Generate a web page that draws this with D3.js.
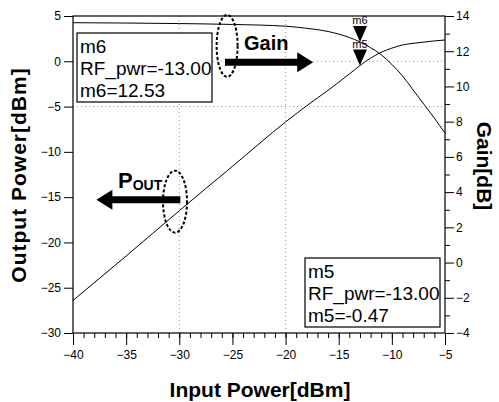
<!DOCTYPE html>
<html>
<head>
<meta charset="utf-8">
<script src="https://cdn.jsdelivr.net/npm/d3@7"></script>
<style>
  body { margin: 0; background: #fff; }
  svg { display: block; font-family: "Liberation Sans", Arial, sans-serif; }
  .tick text { font-size: 12px; }
</style>
</head>
<body>
<div id="chart"></div>
<script>
// input power sweep [dBm]
const inputPower = [-40, -35, -30, -25, -20, -18, -16, -14, -13, -12, -11, -10, -9, -8, -7, -6, -5];
// output power [dBm] (left axis)
const outputPower = [-26.4, -21.5, -16.5, -11.6, -6.7, -4.9, -3.2, -1.4, -0.47, 0.35, 1.0, 1.45, 1.8, 1.98, 2.12, 2.25, 2.35];
// gain [dB] (right axis)
const gain = [13.62, 13.6, 13.57, 13.52, 13.42, 13.3, 13.12, 12.78, 12.53, 12.2, 11.8, 11.25, 10.6, 9.8, 9.0, 8.2, 7.35];

const xTicks = [-40, -35, -30, -25, -20, -15, -10, -5];
const leftTicks = [-30, -25, -20, -15, -10, -5, 0, 5];
const rightTicks = [-4, -2, 0, 2, 4, 6, 8, 10, 12, 14];

const markerX = -13;
const m5 = -0.47, m6 = 12.53;

const width = 499, height = 402;
const pLeft = 73, pRight = 445, pTop = 16, pBottom = 333;

const svg = d3.select("#chart").append("svg")
  .attr("width", width)
  .attr("height", height);

svg.append("rect").attr("width", width).attr("height", height).attr("fill", "#fff");

const x = d3.scaleLinear().domain([-40, -5]).range([pLeft, pRight]);
const yL = d3.scaleLinear().domain([-30, 5]).range([pBottom, pTop]);
const yR = d3.scaleLinear().domain([-4, 14]).range([pBottom, pTop]);

// faint dotted grid
const grid = svg.append("g").attr("stroke", "#999").attr("stroke-width", 1).attr("stroke-dasharray", "1,3");
[-30, -20].forEach(v => {
  grid.append("line").attr("x1", x(v)).attr("x2", x(v)).attr("y1", pTop).attr("y2", pBottom);
});
[0, -5].forEach(v => {
  grid.append("line").attr("x1", pLeft).attr("x2", pRight).attr("y1", yL(v)).attr("y2", yL(v));
});

// plot frame
svg.append("rect")
  .attr("x", pLeft).attr("y", pTop)
  .attr("width", pRight - pLeft).attr("height", pBottom - pTop)
  .attr("fill", "none").attr("stroke", "#000").attr("stroke-width", 1.2);

// axes
svg.append("g")
  .attr("transform", `translate(0,${pBottom})`)
  .call(d3.axisBottom(x).tickValues(d3.range(-40, -4, 1)).tickSize(5).tickFormat(""))
  .call(g => g.select(".domain").remove());
svg.append("g")
  .attr("transform", `translate(0,${pBottom})`)
  .call(d3.axisBottom(x).tickValues(xTicks).tickSize(12).tickPadding(5).tickFormat(d3.format("d")))
  .call(g => g.select(".domain").remove());

svg.append("g")
  .attr("transform", `translate(${pLeft},0)`)
  .call(d3.axisLeft(yL).tickValues(leftTicks).tickSize(9).tickPadding(3).tickFormat(d3.format("d")))
  .call(g => g.select(".domain").remove());

svg.append("g")
  .attr("transform", `translate(${pRight},0)`)
  .call(d3.axisRight(yR).tickValues(d3.range(-3, 14, 2)).tickSize(5).tickFormat(""))
  .call(g => g.select(".domain").remove());
svg.append("g")
  .attr("transform", `translate(${pRight},0)`)
  .call(d3.axisRight(yR).tickValues(rightTicks).tickSize(9).tickPadding(2).tickFormat(d3.format("d")))
  .call(g => g.select(".domain").remove());

svg.selectAll(".tick text").attr("fill", "#000");

// curves
const data = inputPower.map((p, i) => ({ pin: p, pout: outputPower[i], gain: gain[i] }));

svg.append("path")
  .datum(data)
  .attr("fill", "none").attr("stroke", "#000").attr("stroke-width", 1)
  .attr("d", d3.line().x(d => x(d.pin)).y(d => yL(d.pout)).curve(d3.curveMonotoneX));

svg.append("path")
  .datum(data)
  .attr("fill", "none").attr("stroke", "#000").attr("stroke-width", 1)
  .attr("d", d3.line().x(d => x(d.pin)).y(d => yR(d.gain)).curve(d3.curveMonotoneX));

// markers m6 and m5
function marker(px, py, name) {
  svg.append("path")
    .attr("d", `M${px},${py} L${px - 7},${py - 16} L${px + 7},${py - 16} Z`)
    .attr("fill", "#000");
  svg.append("text")
    .attr("x", px).attr("y", py - 18)
    .attr("text-anchor", "middle")
    .style("font-size", "11px")
    .text(name);
}
marker(x(markerX), yR(m6), "m6");
marker(x(markerX), yL(m5), "m5");

// marker readout boxes
function readout(bx, by, lines) {
  svg.append("rect")
    .attr("x", bx).attr("y", by).attr("width", 135).attr("height", 69)
    .attr("fill", "#fff").attr("stroke", "#000").attr("stroke-width", 1.2);
  lines.forEach((t, i) => {
    svg.append("text")
      .attr("x", bx + 3).attr("y", by + 20 + i * 22)
      .style("font-size", "19px")
      .text(t);
  });
}
readout(77, 33, ["m6", "RF_pwr=-13.00", "m6=" + m6.toFixed(2)]);
readout(305, 258, ["m5", "RF_pwr=-13.00", "m5=" + m5.toFixed(2)]);

// annotation arrows
function arrow(x0, x1, yy) {
  const dir = Math.sign(x1 - x0);
  const hx = x1 - dir * 16;
  svg.append("path")
    .attr("d", `M${x0},${yy - 3.5} L${hx},${yy - 3.5} L${hx},${yy - 10} L${x1},${yy} L${hx},${yy + 10} L${hx},${yy + 3.5} L${x0},${yy + 3.5} Z`)
    .attr("fill", "#000");
}
arrow(x(-25.7), x(-17.4), yL(-0.1));
arrow(x(-29.9), x(-37.8), yL(-15.3));

// dashed ellipses
function ellipse(cx, cy, rx, ry) {
  svg.append("ellipse")
    .attr("cx", cx).attr("cy", cy).attr("rx", rx).attr("ry", ry)
    .attr("fill", "none").attr("stroke", "#000")
    .attr("stroke-width", 2).attr("stroke-dasharray", "3,2");
}
ellipse(x(-25.5), yL(1.7), 10.5, 31);
ellipse(x(-30.4), yL(-15.5), 12, 31);

// annotation labels
svg.append("text")
  .attr("x", 244).attr("y", 50)
  .style("font-size", "20px").style("font-weight", "bold")
  .text("Gain");

const pout = svg.append("text")
  .attr("x", 118).attr("y", 188)
  .style("font-weight", "bold");
pout.append("tspan").style("font-size", "22px").text("P");
pout.append("tspan").style("font-size", "14px").attr("dy", 2).text("OUT");

// axis titles
svg.append("text")
  .attr("transform", `translate(26,175) rotate(-90)`)
  .attr("text-anchor", "middle")
  .style("font-size", "21px").style("font-weight", "bold")
  .style("letter-spacing", "1px")
  .text("Output Power[dBm]");

svg.append("text")
  .attr("x", 260).attr("y", 397)
  .attr("text-anchor", "middle")
  .style("font-size", "21px").style("font-weight", "bold")
  .text("Input Power[dBm]");

svg.append("text")
  .attr("transform", `translate(477,166) rotate(90)`)
  .attr("text-anchor", "middle")
  .style("font-size", "21px").style("font-weight", "bold")
  .text("Gain[dB]");
</script>
</body>
</html>
